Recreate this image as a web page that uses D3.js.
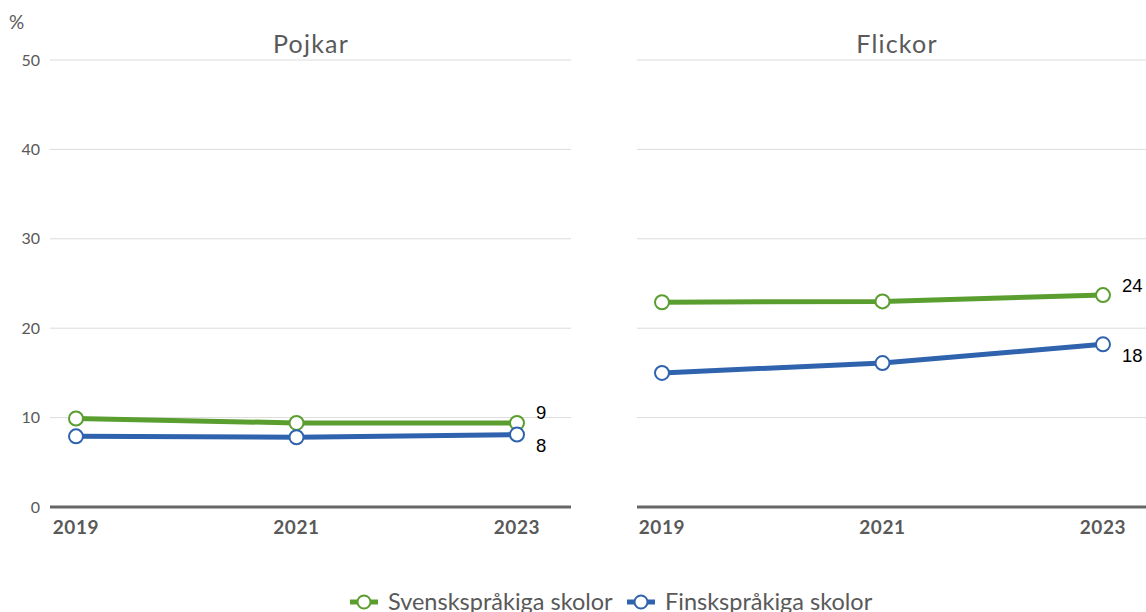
<!DOCTYPE html>
<html>
<head>
<meta charset="utf-8">
<script src="https://cdn.jsdelivr.net/npm/d3@7"></script>
<style>
  html, body { margin: 0; padding: 0; background: #fff; }
  svg { display: block; }
</style>
</head>
<body>
<svg id="chart" width="1146" height="612"></svg>
<script>
// Share of pupils (%) by school language, boys and girls, 2019–2023
const years = [2019, 2021, 2023];
const panels = ["Pojkar", "Flickor"];
const seriesNames = ["Svenskspråkiga skolor", "Finskspråkiga skolor"];
const pojkarSvensk = [9.9, 9.4, 9.4];
const pojkarFinsk = [7.9, 7.8, 8.1];
const flickorSvensk = [22.9, 23.0, 23.7];
const flickorFinsk = [15.0, 16.1, 18.2];
const yTicks = [0, 10, 20, 30, 40, 50];
const colors = ["#5a9e2f", "#2f63ad"];

const svg = d3.select("#chart");
const font = "Lato, 'Noto Sans', sans-serif";

const y = d3.scaleLinear().domain([0, 50]).range([507, 60]);

const layout = [
  { name: panels[0], grid: [50, 571], pts: [76, 517], titleX: 311, data: [pojkarSvensk, pojkarFinsk] },
  { name: panels[1], grid: [637, 1146], pts: [662, 1103], titleX: 897, data: [flickorSvensk, flickorFinsk] }
];

// y-axis unit and tick labels (left panel only)
svg.append("text").attr("x", 9).attr("y", 29).text("%")
  .attr("font-family", font).attr("font-size", 19).attr("fill", "#595959");
svg.selectAll(".ytick").data(yTicks).join("text")
  .attr("class", "ytick")
  .attr("x", 40).attr("y", d => y(d)).attr("dy", "0.35em")
  .attr("text-anchor", "end")
  .attr("font-family", font).attr("font-size", 16).attr("fill", "#595959")
  .text(d => d);

layout.forEach((p, pi) => {
  const x = d3.scaleLinear().domain([years[0], years[years.length - 1]]).range(p.pts);
  const g = svg.append("g");

  // gridlines
  g.selectAll(".grid").data(yTicks.filter(t => t > 0)).join("line")
    .attr("x1", p.grid[0]).attr("x2", p.grid[1])
    .attr("y1", d => y(d)).attr("y2", d => y(d))
    .attr("stroke", "#dcdcdc").attr("stroke-width", 1);

  // baseline
  g.append("line")
    .attr("x1", p.grid[0]).attr("x2", p.grid[1])
    .attr("y1", y(0)).attr("y2", y(0))
    .attr("stroke", "#666").attr("stroke-width", 3);

  // x tick labels
  g.selectAll(".xt").data(years).join("text")
    .attr("x", d => x(d)).attr("y", 534)
    .attr("text-anchor", "middle")
    .attr("font-family", font).attr("font-size", 19).attr("font-weight", "bold")
    .attr("letter-spacing", 0.6)
    .attr("fill", "#595959")
    .text(d => d);

  // panel title
  g.append("text")
    .attr("x", p.titleX).attr("y", 53)
    .attr("text-anchor", "middle")
    .attr("font-family", font).attr("font-size", 25).attr("fill", "#595959")
    .attr("letter-spacing", 1.2)
    .text(p.name);

  const line = d3.line().x((d, i) => x(years[i])).y(d => y(d));

  p.data.forEach((vals, si) => {
    g.append("path").datum(vals)
      .attr("d", line)
      .attr("fill", "none")
      .attr("stroke", colors[si]).attr("stroke-width", 5)
      .attr("stroke-linejoin", "round");

    g.selectAll(".pt" + si).data(vals).join("circle")
      .attr("cx", (d, i) => x(years[i])).attr("cy", d => y(d))
      .attr("r", 7)
      .attr("fill", "#fff").attr("stroke", colors[si]).attr("stroke-width", 2);

    const last = vals[vals.length - 1];
    g.append("text")
      .attr("x", x(years[years.length - 1]) + 19)
      .attr("y", y(last) + (si === 0 ? -10 : 11))
      .attr("dy", "0.35em")
      .attr("font-family", "'Liberation Sans', Arial, sans-serif")
      .attr("font-size", 18.5).attr("fill", "#000")
      .text(d3.format(".0f")(last));
  });
});

// legend
const legendItems = [
  { name: seriesNames[0], color: colors[0], x: 350 },
  { name: seriesNames[1], color: colors[1], x: 627 }
];
const lg = svg.append("g");
legendItems.forEach(it => {
  lg.append("line").attr("x1", it.x).attr("x2", it.x + 28)
    .attr("y1", 602).attr("y2", 602)
    .attr("stroke", it.color).attr("stroke-width", 5);
  lg.append("circle").attr("cx", it.x + 14).attr("cy", 602).attr("r", 6.5)
    .attr("fill", "#fff").attr("stroke", it.color).attr("stroke-width", 2);
  lg.append("text").attr("x", it.x + 38).attr("y", 602).attr("dy", "0.35em")
    .attr("font-family", font).attr("font-size", 23.5).attr("fill", "#595959")
    .text(it.name);
});
</script>
</body>
</html>
